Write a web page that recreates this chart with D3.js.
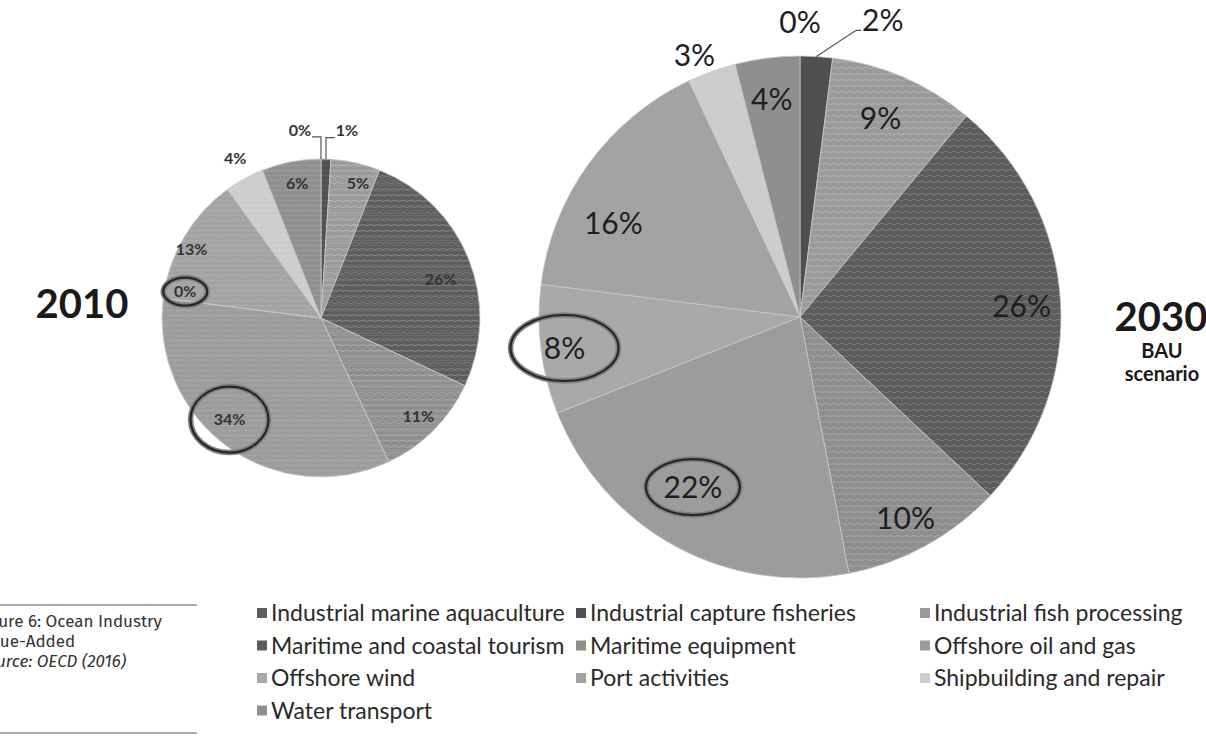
<!DOCTYPE html>
<html>
<head>
<meta charset="utf-8">
<script src="https://cdn.jsdelivr.net/npm/d3@7"></script>
<style>
  body { margin: 0; background: #fff; }
  svg { display: block; }
</style>
</head>
<body>
<div id="chart"></div>
<script>
// data (OECD 2016), share of ocean industry value added
var categories = ["Industrial marine aquaculture", "Industrial capture fisheries", "Industrial fish processing",
                  "Maritime and coastal tourism", "Maritime equipment", "Offshore oil and gas",
                  "Offshore wind", "Port activities", "Shipbuilding and repair", "Water transport"];
var values2010 = [0, 1, 5, 26, 11, 34, 0, 13, 4, 6];
var values2030 = [0, 2, 9, 26, 10, 22, 8, 16, 3, 4];
var circled = ["Offshore oil and gas", "Offshore wind"];
var pieTitles = ["2010", "2030"];
var scenarioLines = ["BAU", "scenario"];
var captionLines = ["Figure 6: Ocean Industry", "Value-Added", "Source: OECD (2016)"];

// styling
var colors = ["#5e5e5e", "#4f4f4f", "#9a9a9a", "#5c5c5c", "#8e8e8e", "#9c9c9c", "#a9a9a9", "#a3a3a3", "#cdcdcd", "#8f8f8f"];
var lineColors = [null, null, "#b0b0b0", "#7a7a7a", "#a3a3a3", null, null, null, null, null];

var W = 1206, H = 742;
var svg = d3.select("#chart").append("svg").attr("width", W).attr("height", H);
var defs = svg.append("defs");

colors.forEach(function(c, i) {
  if (!lineColors[i]) return;
  var p = defs.append("pattern").attr("id", "pat" + i)
    .attr("patternUnits", "userSpaceOnUse").attr("width", 8).attr("height", 6);
  p.append("rect").attr("width", 8).attr("height", 6).attr("fill", c);
  p.append("path").attr("d", "M0,3 Q2,1.6 4,3 T8,3")
    .attr("fill", "none").attr("stroke", lineColors[i]).attr("stroke-width", 1);
});
var grain = defs.append("pattern").attr("id", "grain")
  .attr("patternUnits", "userSpaceOnUse").attr("width", 6).attr("height", 5);
grain.append("path").attr("d", "M0,2.5 Q1.5,1.5 3,2.5 T6,2.5")
  .attr("fill", "none").attr("stroke", "#fff").attr("stroke-opacity", 0.12).attr("stroke-width", 1);

function fillOf(i) { return lineColors[i] ? "url(#pat" + i + ")" : colors[i]; }

var pies = [
  { values: values2010, cx: 321, cy: 318, r: 159, fs: 16, fw: 700, color: "#333",
    labelR:     [1.19, 1.19, 0.88, 0.79, 0.87, 0.86, 0.87, 0.92, 1.14, 0.86],
    labelShift: [-6.4, 6.1, 2.7, 3.9, 0.3, 6, 3.8, -2.8, 0.5, 0.8],
    leaders: { 0: "bracket", 1: "bracket" },
    rings: { 5: [39, 33], 6: [22, 14] }, grain: true },
  { values: values2030, cx: 800, cy: 317, r: 261, fs: 30, fw: 400, color: "#1e1e1e",
    labelR:     [1.13, 1.18, 0.82, 0.85, 0.87, 0.77, 0.91, 0.8, 1.08, 0.84],
    labelShift: [0, 12, -1.3, 1, 1.1, 3.4, -0.3, -9.4, -2.2, -0.2],
    leaders: { 1: "diag" },
    rings: { 5: [47, 28], 6: [54, 33] }, grain: false }
];

var pie = d3.pie().sort(null).value(function(d) { return d; });

pies.forEach(function(cfg, pi) {
  var g = svg.append("g").attr("transform", "translate(" + cfg.cx + "," + cfg.cy + ")");
  var arcs = pie(cfg.values);
  var arc = d3.arc().innerRadius(0).outerRadius(cfg.r);

  g.selectAll("path.slice").data(arcs).enter().append("path")
    .attr("class", "slice")
    .attr("d", arc)
    .attr("fill", function(d, i) { return fillOf(i); })
    .attr("stroke", "#c8c8c8").attr("stroke-width", 0.8);
  if (cfg.grain) {
    g.append("circle").attr("r", cfg.r).attr("fill", "url(#grain)");
  }

  arcs.forEach(function(d, i) {
    var mid = (d.startAngle + d.endAngle) / 2;
    var a = mid + cfg.labelShift[i] * Math.PI / 180;
    var lr = cfg.r * cfg.labelR[i];
    var lx = Math.sin(a) * lr, ly = -Math.cos(a) * lr;
    var t = g.append("text")
      .attr("x", lx).attr("y", ly).attr("dy", "0.35em")
      .attr("text-anchor", "middle")
      .attr("font-family", "Lato, 'Open Sans', sans-serif")
      .attr("font-size", cfg.fs).attr("font-weight", cfg.fw)
      .attr("fill", cfg.color)
      .text(d.data + "%");
    var hw = t.node().getComputedTextLength() / 2;

    var lead = cfg.leaders[i];
    if (lead) {
      var ax = Math.sin(mid) * cfg.r, ay = -Math.cos(mid) * cfg.r;
      var pts;
      if (lead === "bracket") {
        var side = lx < ax ? -1 : 1;
        pts = [[ax, ay], [ax, ly + 7], [lx - side * (hw + 1), ly + 7]];
      } else {
        pts = [[ax, ay], [lx - hw - 6, ly + 10], [lx - hw - 1, ly + 10]];
      }
      g.append("path").attr("d", d3.line()(pts))
        .attr("fill", "none").attr("stroke", "#555").attr("stroke-width", 1.2);
    }

    var ring = cfg.rings[i];
    if (ring && circled.indexOf(categories[i]) >= 0) {
      g.append("ellipse").attr("cx", lx).attr("cy", ly).attr("rx", ring[0]).attr("ry", ring[1])
        .attr("fill", "none").attr("stroke", "#808080").attr("stroke-width", 5.5);
      g.append("ellipse").attr("cx", lx).attr("cy", ly).attr("rx", ring[0]).attr("ry", ring[1])
        .attr("fill", "none").attr("stroke", "#262626").attr("stroke-width", 2.2);
    }
  });
});

// titles
svg.append("text").attr("x", 82).attr("y", 318).attr("text-anchor", "middle")
  .attr("font-family", "Lato, sans-serif").attr("font-size", 40).attr("font-weight", 700)
  .attr("fill", "#1a1a1a").text(pieTitles[0]);
svg.append("text").attr("x", 1161).attr("y", 331).attr("text-anchor", "middle")
  .attr("font-family", "Lato, sans-serif").attr("font-size", 40).attr("font-weight", 700)
  .attr("fill", "#1a1a1a").text(pieTitles[1]);
svg.selectAll("text.scen").data(scenarioLines).enter().append("text")
  .attr("class", "scen")
  .attr("x", 1162).attr("y", function(d, i) { return 358 + i * 23; })
  .attr("text-anchor", "middle")
  .attr("font-family", "Lato, sans-serif").attr("font-size", 20).attr("font-weight", 700)
  .attr("fill", "#1a1a1a").text(function(d) { return d; });

// legend, 3 columns
var colX = [257, 576, 920];
var legend = svg.append("g").selectAll("g").data(categories).enter().append("g")
  .attr("transform", function(d, i) {
    return "translate(" + colX[i % 3] + "," + (613 + Math.floor(i / 3) * 32.5) + ")";
  });
legend.append("rect").attr("x", 0).attr("y", -5).attr("width", 10).attr("height", 10)
  .attr("fill", function(d, i) { return colors[i]; });
legend.append("text").attr("x", 14).attr("dy", "0.35em")
  .attr("font-family", "Lato, sans-serif").attr("font-size", 23)
  .attr("fill", "#2a2a2a").text(function(d) { return d; });

// clipped figure caption at the bottom left
svg.append("line").attr("x1", 0).attr("x2", 197).attr("y1", 605).attr("y2", 605)
  .attr("stroke", "#555").attr("stroke-width", 1);
svg.append("line").attr("x1", 0).attr("x2", 197).attr("y1", 733).attr("y2", 733)
  .attr("stroke", "#555").attr("stroke-width", 1);
svg.selectAll("text.cap").data(captionLines).enter().append("text")
  .attr("class", "cap")
  .attr("x", -23).attr("y", function(d, i) { return 627 + i * 20; })
  .attr("font-family", "'Fira Sans', 'Open Sans', sans-serif").attr("font-size", 17)
  .attr("font-style", function(d, i) { return i === 2 ? "italic" : "normal"; })
  .attr("fill", "#333").text(function(d) { return d; });
</script>
</body>
</html>
